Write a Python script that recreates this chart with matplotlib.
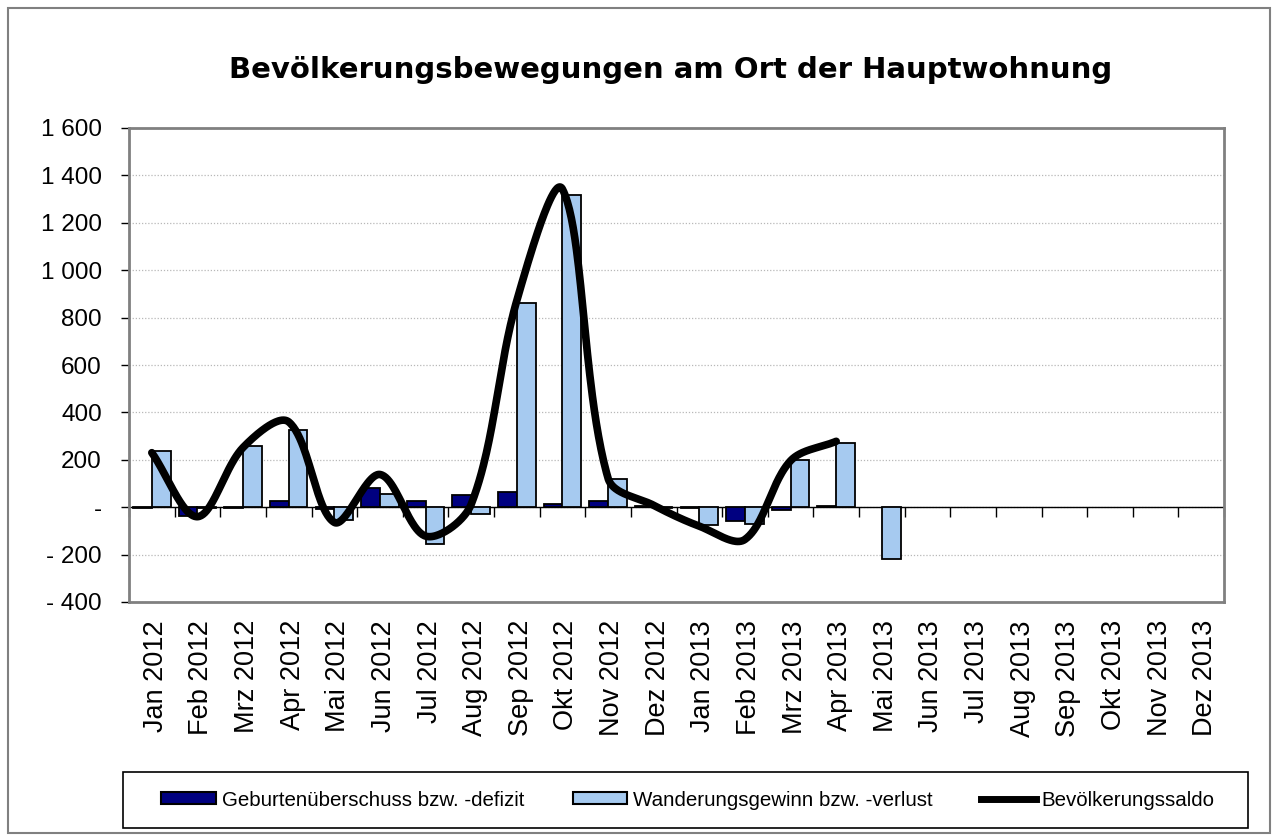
import numpy as np
import matplotlib
matplotlib.use("Agg")
import matplotlib.pyplot as plt
import matplotlib.transforms as mtransforms
from matplotlib.patches import Rectangle
from matplotlib.lines import Line2D
from matplotlib.ticker import FuncFormatter, MultipleLocator

# ---------------- data ----------------
months = ["Jan 2012", "Feb 2012", "Mrz 2012", "Apr 2012", "Mai 2012", "Jun 2012",
          "Jul 2012", "Aug 2012", "Sep 2012", "Okt 2012", "Nov 2012", "Dez 2012",
          "Jan 2013", "Feb 2013", "Mrz 2013", "Apr 2013", "Mai 2013", "Jun 2013",
          "Jul 2013", "Aug 2013", "Sep 2013", "Okt 2013", "Nov 2013", "Dez 2013"]

geburten = [-5, -38, -3, 26, -8, 80, 26, 53, 64, 14, 28, 3,
            -2, -60, -12, 3]
wanderung = [236, -3, 260, 324, -55, 57, -154, -27, 861, 1319, 118, -3,
             -74, -69, 201, 271, -217]
saldo = [230, -40, 252, 360, -64, 138, -122, 12, 872, 1342, 122, 8,
         -80, -136, 196, 278]

series_names = ["Geburtenüberschuss bzw. -defizit",
                "Wanderungsgewinn bzw. -verlust",
                "Bevölkerungssaldo"]
title = "Bevölkerungsbewegungen am Ort der Hauptwohnung"

# ---------------- style ----------------
W, H = 1277, 839
plt.rcParams["font.family"] = ["Liberation Sans", "DejaVu Sans"]
dark_col = "#000080"
light_col = "#A6CAF0"

fig = plt.figure(figsize=(W / 100, H / 100), dpi=100)

# outer chart border
fig.patches.append(Rectangle((8 / W, 1 - 833 / H), (1270 - 8) / W, (833 - 8) / H,
                             transform=fig.transFigure, fill=False,
                             edgecolor="#808080", linewidth=1.5, zorder=0))

L, R, T, B = 129, 1224, 128, 602
ax = fig.add_axes([L / W, 1 - B / H, (R - L) / W, (B - T) / H])

n = len(months)
x_all = np.arange(n)
bw = 0.41
ymin, ymax = -400, 1600

xg = np.arange(len(geburten))
xw = np.arange(len(wanderung))
ax.bar(xg - bw / 2, geburten, width=bw, color=dark_col, edgecolor="black",
       linewidth=1.3, zorder=3)
ax.bar(xw + bw / 2, wanderung, width=bw, color=light_col, edgecolor="black",
       linewidth=1.3, zorder=3)

# smoothed line (Excel-like Bezier smoothing, computed in pixel space)
px_per_cat = (R - L) / n
px_per_unit = (B - T) / (ymax - ymin)


def smooth_curve(xs, ys, steps=50, t=1 / 3):
    P = np.column_stack([np.asarray(xs, float) * px_per_cat,
                         np.asarray(ys, float) * px_per_unit])
    m = len(P)
    outs = []
    for i in range(m - 1):
        p0 = P[i - 1] if i > 0 else P[i]
        p1, p2 = P[i], P[i + 1]
        p3 = P[i + 2] if i + 2 < m else P[i + 1]
        d01 = np.linalg.norm(p1 - p0)
        d12 = np.linalg.norm(p2 - p1)
        d23 = np.linalg.norm(p3 - p2)
        f1 = d12 / (d01 + d12) if (d01 + d12) > 0 else 0.5
        f2 = d12 / (d12 + d23) if (d12 + d23) > 0 else 0.5
        c1 = p1 + (p2 - p0) * t * f1
        c2 = p2 - (p3 - p1) * t * f2
        s = np.linspace(0, 1, steps)[:, None]
        b = (1 - s) ** 3 * p1 + 3 * (1 - s) ** 2 * s * c1 + 3 * (1 - s) * s ** 2 * c2 + s ** 3 * p2
        outs.append(b if i == 0 else b[1:])
    B_ = np.vstack(outs)
    return B_[:, 0] / px_per_cat, B_[:, 1] / px_per_unit


sx, sy = smooth_curve(np.arange(len(saldo)), saldo)
ax.plot(sx, sy, color="black", linewidth=5.5, solid_capstyle="round", zorder=4)

# axes, grid
ax.set_xlim(-0.5, n - 0.5)
ax.set_ylim(ymin, ymax)
ax.yaxis.set_major_locator(MultipleLocator(200))


def yfmt(v, pos):
    v = int(round(v))
    if v == 0:
        return "-"
    s = f"{abs(v):,}".replace(",", " ")
    return ("- " + s) if v < 0 else s


ax.yaxis.set_major_formatter(FuncFormatter(yfmt))
ax.grid(axis="y", color="#B8B8B8", linestyle=(0, (1, 1.5)), linewidth=0.9, zorder=0)
ax.set_axisbelow(True)

ax.set_xticks(x_all)
ax.set_xticklabels(months, rotation=90, fontsize=19.5)
ax.tick_params(axis="x", length=0, pad=13)
ax.tick_params(axis="y", length=5.5, width=1, color="black", labelsize=17.5, pad=14)
offset = mtransforms.ScaledTranslation(4 / 100, 0, fig.dpi_scale_trans)
for lab in ax.get_xticklabels():
    lab.set_transform(lab.get_transform() + offset)

for s in ax.spines.values():
    s.set_color("#808080")
    s.set_linewidth(2)

# category axis line at zero with downward tick marks at boundaries
ax.axhline(0, color="black", linewidth=1, zorder=2)
bounds = np.arange(-0.5, n, 1.0)
ax.plot(bounds, np.zeros_like(bounds), linestyle="none", marker=3,
        markersize=7, markeredgewidth=1, color="black", zorder=2, clip_on=False)

fig.text(671 / W, 1 - 70 / H, title, ha="center", va="center",
         fontsize=21, fontweight="bold", family="DejaVu Sans")

# legend
lx0, lx1, ly0, ly1 = 123, 1248, 772, 828
fig.patches.append(Rectangle((lx0 / W, 1 - ly1 / H), (lx1 - lx0) / W, (ly1 - ly0) / H,
                             transform=fig.transFigure, fill=True, facecolor="white",
                             edgecolor="black", linewidth=1.2, zorder=1))
handles = [Rectangle((0, 0), 1, 1, facecolor=dark_col, edgecolor="black", linewidth=1.5),
           Rectangle((0, 0), 1, 1, facecolor=light_col, edgecolor="black", linewidth=1.5),
           Line2D([], [], color="black", linewidth=5)]
leg = fig.legend(handles, series_names, ncol=3, loc="center",
                 bbox_to_anchor=(688 / W, 1 - 800 / H),
                 frameon=False, fontsize=14.8,
                 handlelength=2.65, handleheight=0.5, handletextpad=0.3,
                 columnspacing=2.35, borderaxespad=0, borderpad=0)

fig.savefig("out.png", dpi=100)
